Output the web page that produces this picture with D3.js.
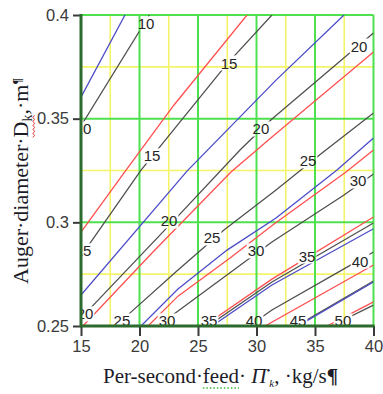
<!DOCTYPE html>
<html>
<head>
<meta charset="utf-8">
<script src="https://cdn.jsdelivr.net/npm/d3@7"></script>
<style>
  body { margin: 0; background: #fff; }
</style>
</head>
<body>
<div id="chart"></div>
<script>
var xDomain = [15, 40];
var yDomain = [0.25, 0.4];
var xTicks = [15, 20, 25, 30, 35, 40];
var yTicks = [0.25, 0.3, 0.35, 0.4];
var xMinor = [17.5, 22.5, 27.5, 32.5, 37.5];
var yMinor = [0.275, 0.325, 0.375];
var xMajor = [20, 25, 30, 35];
var yMajor = [0.3, 0.35];

// contour lines as [feed, diameter] points
var blueA = [[15, 0.3604], [18.76, 0.4]];
var gray10 = [[15, 0.3465], [20.85, 0.4]];
var redA = [[15, 0.2953], [18.85, 0.3252], [22.95, 0.3566], [29.19, 0.4]];
var gray15 = [[15, 0.2837], [20.13, 0.3252], [23.12, 0.3460], [27.48, 0.3764], [31.32, 0.4]];
var blueB = [[15, 0.2649], [24.06, 0.3247], [31.67, 0.3686], [37.48, 0.4]];
var gray20 = [[15, 0.2538], [23.29, 0.3030], [28.59, 0.3349], [31.32, 0.3498], [37.56, 0.3797], [40, 0.3913]];
var redB = [[15.17, 0.25], [21.15, 0.2857], [27.82, 0.3243], [31.32, 0.3411], [40, 0.3822]];
var gray25 = [[17.99, 0.25], [19.27, 0.2567], [23.29, 0.2770], [27.22, 0.2963], [31.67, 0.3156], [35.6, 0.3334], [40, 0.3527]];
var blueC = [[20.13, 0.25], [23.29, 0.2678], [27.48, 0.2866], [31.67, 0.3021], [36.88, 0.3252], [40, 0.3407]];
var redC = [[20.73, 0.25], [23.29, 0.2644], [27.74, 0.2828], [31.5, 0.2992], [37.65, 0.3243], [40, 0.3349]];
var gray30 = [[21.58, 0.25], [22.95, 0.2558], [29.44, 0.2828], [31.32, 0.2905], [37.48, 0.3132], [40, 0.3233]];
var gray35 = [[25.85, 0.25], [31.32, 0.2712], [40, 0.2997]];
var redD = [[25.51, 0.25], [31.32, 0.2726], [40, 0.3026]];
var blueD = [[26.2, 0.25], [31.32, 0.2698], [40, 0.2969]];
var gray40 = [[29.36, 0.25], [31.32, 0.2577], [37.74, 0.2784], [40, 0.2857]];
var redE = [[30.73, 0.25], [40, 0.2794]];
var gray45 = [[33.4, 0.25], [40, 0.2717]];
var blueE = [[33.55, 0.25], [40, 0.2712]];
var redF = [[36.03, 0.25], [40, 0.2616]];
var gray50 = [[36.37, 0.25], [40, 0.2601]];

// contour labels: [value, feed, diameter]
var labels = [
  [10, 20.56, 0.3957], [10, 15.17, 0.345],
  [15, 21.07, 0.332], [15, 27.65, 0.3768], [15, 15.17, 0.2862],
  [20, 15.34, 0.2558], [20, 22.52, 0.3006], [20, 30.38, 0.345], [20, 38.76, 0.385],
  [25, 18.5, 0.2524], [25, 26.2, 0.2924], [25, 34.4, 0.3296],
  [30, 22.35, 0.2524], [30, 29.96, 0.2862], [30, 38.68, 0.3199],
  [35, 25.94, 0.2524], [35, 34.32, 0.2837],
  [40, 29.79, 0.2524], [40, 38.85, 0.2813],
  [45, 33.55, 0.2524],
  [50, 37.39, 0.2524]
];

var grayC = "#505050", redC_ = "#ff4f4f", blueC_ = "#4c4cc8";

var series = [
  { pts: gray10, color: grayC }, { pts: gray15, color: grayC }, { pts: gray20, color: grayC },
  { pts: gray25, color: grayC }, { pts: gray30, color: grayC }, { pts: gray35, color: grayC },
  { pts: gray40, color: grayC }, { pts: gray45, color: grayC }, { pts: gray50, color: grayC },
  { pts: blueA, color: blueC_ }, { pts: blueB, color: blueC_ }, { pts: blueC, color: blueC_ },
  { pts: blueD, color: blueC_ }, { pts: blueE, color: blueC_ },
  { pts: redA, color: redC_ }, { pts: redB, color: redC_ }, { pts: redC, color: redC_ },
  { pts: redD, color: redC_ }, { pts: redE, color: redC_ }, { pts: redF, color: redC_ }
];

var width = 383, height = 394;

var svg = d3.select("#chart").append("svg")
    .attr("width", width)
    .attr("height", height);

var x = d3.scaleLinear().domain(xDomain).range([81, 373.5]);
var y = d3.scaleLinear().domain(yDomain).range([326, 15]);

var defs = svg.append("defs");
defs.append("clipPath").attr("id", "plot-clip")
  .append("rect")
    .attr("x", x(15)).attr("y", y(0.4))
    .attr("width", x(40) - x(15)).attr("height", y(0.25) - y(0.4));
var mask = defs.append("mask").attr("id", "label-gaps")
    .attr("maskUnits", "userSpaceOnUse")
    .attr("x", 0).attr("y", 0).attr("width", width).attr("height", height);
mask.append("rect").attr("width", width).attr("height", height).attr("fill", "#fff");

/* ------- GRID -------*/
var grid = svg.append("g");
grid.selectAll("line.xminor").data(xMinor).enter().append("line")
    .attr("class", "xminor")
    .attr("x1", d => x(d)).attr("x2", d => x(d))
    .attr("y1", y(0.25)).attr("y2", y(0.4))
    .attr("stroke", "#f4f46a").attr("stroke-width", 1.6);
grid.selectAll("line.yminor").data(yMinor).enter().append("line")
    .attr("class", "yminor")
    .attr("x1", x(15)).attr("x2", x(40))
    .attr("y1", d => y(d)).attr("y2", d => y(d))
    .attr("stroke", "#f4f46a").attr("stroke-width", 1.6);
grid.selectAll("line.xmajor").data(xMajor.concat([40])).enter().append("line")
    .attr("class", "xmajor")
    .attr("x1", d => x(d)).attr("x2", d => x(d))
    .attr("y1", y(0.25)).attr("y2", y(0.4))
    .attr("stroke", "#4ee04e").attr("stroke-width", 2);
grid.selectAll("line.ymajor").data(yMajor.concat([0.4])).enter().append("line")
    .attr("class", "ymajor")
    .attr("x1", x(15)).attr("x2", x(40))
    .attr("y1", d => y(d)).attr("y2", d => y(d))
    .attr("stroke", "#4ee04e").attr("stroke-width", 2);

/* ------- CONTOURS -------*/
var line = d3.line().x(d => x(d[0])).y(d => y(d[1]));

var plot = svg.append("g").attr("clip-path", "url(#plot-clip)");
plot.append("g")
    .attr("mask", "url(#label-gaps)")
  .selectAll("path").data(series).enter().append("path")
    .attr("d", d => line(d.pts))
    .attr("fill", "none")
    .attr("stroke", d => d.color)
    .attr("stroke-width", 1.3);

var labelText = plot.append("g").selectAll("text").data(labels).enter().append("text")
    .attr("x", d => x(d[1]))
    .attr("y", d => y(d[2]))
    .attr("dy", "0.36em")
    .attr("text-anchor", "middle")
    .attr("font-family", "Liberation Sans, Arial, sans-serif")
    .attr("font-size", 15)
    .attr("fill", "#262626")
    .text(d => d[0]);

labelText.each(function () {
  var b = this.getBBox();
  mask.append("rect")
      .attr("x", b.x - 1).attr("y", b.y + 1)
      .attr("width", b.width + 2).attr("height", b.height - 2)
      .attr("fill", "#000");
});

/* ------- AXES -------*/
var yAxis = svg.append("g")
    .attr("transform", "translate(" + x(15) + ",0)")
    .call(d3.axisLeft(y).tickValues(yTicks).tickSize(8).tickPadding(4).tickFormat(d3.format("~g")));
var xAxis = svg.append("g")
    .attr("transform", "translate(0," + y(0.25) + ")")
    .call(d3.axisBottom(x).tickValues(xTicks).tickSize(10).tickPadding(4).tickFormat(d3.format("~g")));

[yAxis, xAxis].forEach(function (a) {
  a.select(".domain").remove();
  a.selectAll(".tick line").attr("stroke", "#3a3a3a").attr("stroke-width", 2);
  a.selectAll(".tick text")
      .attr("font-family", "Liberation Sans, Arial, sans-serif")
      .attr("font-size", 16.5)
      .attr("fill", "#3a3a3a");
});

svg.append("line")
    .attr("x1", x(15)).attr("x2", x(15))
    .attr("y1", y(0.4) - 1).attr("y2", y(0.25) + 1)
    .attr("stroke", "#2d6a2d").attr("stroke-width", 3);
svg.append("line")
    .attr("x1", x(15) - 1).attr("x2", x(40) + 1)
    .attr("y1", y(0.25)).attr("y2", y(0.25))
    .attr("stroke", "#2d6a2d").attr("stroke-width", 3);

/* ------- TITLES -------*/
var yTitle = svg.append("g").attr("transform", "translate(28,284) rotate(-90)");
var yt = yTitle.append("text")
    .attr("font-family", "Liberation Serif, Times New Roman, serif")
    .attr("font-size", 22)
    .attr("fill", "#1c1c28");
yt.append("tspan").text("Auger·diameter·D");
yt.append("tspan").attr("font-size", 14).attr("dy", 4).text("k");
yt.append("tspan").attr("dy", -4).text(",·m");
yt.append("tspan").attr("font-size", 12).attr("dy", -7).attr("font-weight", "bold").text("¶");

// spell-check wave under "Dk"
var d0 = yt.node().getStartPositionOfChar(15).x;
var d1 = yt.node().getEndPositionOfChar(16).x;
var wave = d3.range(d0, d1 + 0.1, 2).map((v, i) => [v, 5 + (i % 2 ? 1.5 : 0)]);
yTitle.append("path")
    .attr("d", d3.line()(wave))
    .attr("fill", "none")
    .attr("stroke", "#e03030")
    .attr("stroke-width", 1);

var xTitle = svg.append("g").attr("transform", "translate(103,383)");
var xt = xTitle.append("text")
    .attr("font-family", "Liberation Serif, Times New Roman, serif")
    .attr("font-size", 21)
    .attr("fill", "#1c1c28");
xt.append("tspan").text("Per-second·feed· ");
xt.append("tspan").attr("font-style", "italic").text("Π");
xt.append("tspan").attr("font-size", 11).attr("dy", -9).text("•");
xt.append("tspan").attr("font-size", 11).attr("font-style", "italic").attr("dx", -1).attr("dy", 13).text("k");
xt.append("tspan").attr("dy", -4).text(", ·kg/s");
xt.append("tspan").attr("font-weight", "bold").text("¶");

// dotted underline under "feed"
var f0 = xt.node().getStartPositionOfChar(11).x;
var f1 = xt.node().getEndPositionOfChar(14).x;
xTitle.append("line")
    .attr("x1", f0).attr("x2", f1)
    .attr("y1", 5).attr("y2", 5)
    .attr("stroke", "#3cb43c")
    .attr("stroke-width", 1.3)
    .attr("stroke-dasharray", "1.5,2");
</script>
</body>
</html>
